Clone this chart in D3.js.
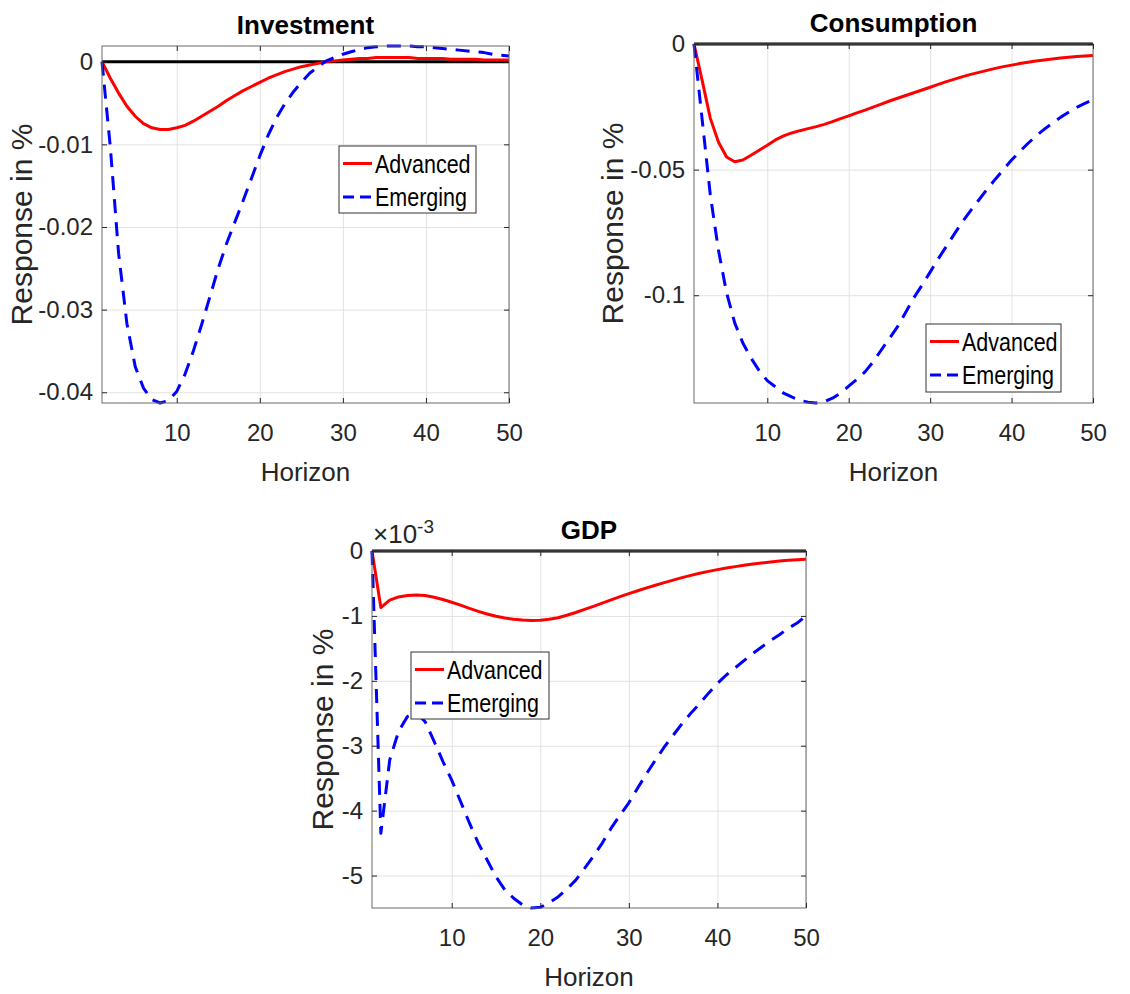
<!DOCTYPE html>
<html>
<head>
<meta charset="utf-8">
<script src="https://cdn.jsdelivr.net/npm/d3@7"></script>
<style>
  body { margin: 0; background: #fff; }
  svg text { font-family: 'Liberation Sans', Arial, Helvetica, sans-serif; }
</style>
</head>
<body>
<div id="chart"></div>
<script>
/** Data (impulse responses, in %) **/
const horizon = d3.range(1, 51);
const xTicks = [10, 20, 30, 40, 50];
const seriesNames = ['Advanced', 'Emerging'];

const invAdvanced = [0, -0.0020, -0.0038, -0.0054, -0.0066, -0.0075, -0.0080, -0.0082, -0.0082, -0.0080,
  -0.0077, -0.0072, -0.0066, -0.0060, -0.0054, -0.0047, -0.0041, -0.0035, -0.0030, -0.0025,
  -0.0020, -0.0016, -0.0012, -0.0009, -0.0006, -0.0004, -0.0002, 0.0000, 0.0001, 0.0002,
  0.0003, 0.0004, 0.0004, 0.0005, 0.0005, 0.0005, 0.0005, 0.0005, 0.0004, 0.0004,
  0.0004, 0.0004, 0.0003, 0.0003, 0.0003, 0.0003, 0.0002, 0.0002, 0.0002, 0.0002];
const invEmerging = [0, -0.0103, -0.0232, -0.0317, -0.0369, -0.0395, -0.0409, -0.0413, -0.0410, -0.0399,
  -0.0378, -0.0350, -0.0318, -0.0284, -0.0250, -0.0220, -0.0194, -0.0168, -0.0141, -0.0114,
  -0.0089, -0.0068, -0.0051, -0.0037, -0.0025, -0.0014, -0.0006, 0.0001, 0.0005, 0.0009,
  0.0012, 0.0015, 0.0017, 0.0018, 0.0019, 0.0019, 0.0019, 0.0019, 0.0018, 0.0018,
  0.0017, 0.0016, 0.0015, 0.0014, 0.0013, 0.0012, 0.0011, 0.0009, 0.0008, 0.0007];

const consAdvanced = [0, -0.0145, -0.0295, -0.0390, -0.0450, -0.0469, -0.0462, -0.0443, -0.0423, -0.0403,
  -0.0382, -0.0366, -0.0354, -0.0345, -0.0337, -0.0329, -0.0320, -0.0309, -0.0297, -0.0286,
  -0.0274, -0.0263, -0.0251, -0.0239, -0.0227, -0.0216, -0.0205, -0.0194, -0.0183, -0.0172,
  -0.0161, -0.0150, -0.0140, -0.0130, -0.0121, -0.0113, -0.0105, -0.0097, -0.0090, -0.0084,
  -0.0078, -0.0073, -0.0068, -0.0064, -0.0060, -0.0056, -0.0053, -0.0050, -0.0048, -0.0046];
const consEmerging = [0, -0.0300, -0.0600, -0.0820, -0.0990, -0.1110, -0.1190, -0.1250, -0.1300, -0.1340,
  -0.1365, -0.1390, -0.1405, -0.1418, -0.1426, -0.1429, -0.1424, -0.1410, -0.1390, -0.1362,
  -0.1335, -0.1305, -0.1265, -0.1218, -0.1172, -0.1125, -0.1068, -0.1010, -0.0960, -0.0908,
  -0.0855, -0.0805, -0.0755, -0.0706, -0.0662, -0.0620, -0.0578, -0.0538, -0.0500, -0.0462,
  -0.0428, -0.0396, -0.0366, -0.0340, -0.0315, -0.0292, -0.0272, -0.0252, -0.0236, -0.0222];

// GDP values are in units of 10^-3
const gdpAdvanced = [0, -0.871, -0.758, -0.707, -0.687, -0.677, -0.687, -0.712, -0.748, -0.790,
  -0.835, -0.885, -0.930, -0.970, -1.005, -1.033, -1.052, -1.064, -1.070, -1.067,
  -1.052, -1.028, -0.990, -0.948, -0.900, -0.852, -0.802, -0.752, -0.704, -0.656,
  -0.612, -0.569, -0.527, -0.487, -0.448, -0.410, -0.375, -0.343, -0.314, -0.287,
  -0.263, -0.241, -0.220, -0.200, -0.184, -0.169, -0.155, -0.143, -0.135, -0.128];
const gdpEmerging = [0, -4.35, -3.22, -2.78, -2.55, -2.49, -2.63, -2.93, -3.24, -3.53,
  -3.86, -4.19, -4.50, -4.76, -5.02, -5.22, -5.35, -5.45, -5.50, -5.49,
  -5.42, -5.33, -5.21, -5.07, -4.89, -4.70, -4.50, -4.27, -4.07, -3.88,
  -3.65, -3.43, -3.22, -3.02, -2.84, -2.66, -2.50, -2.35, -2.19, -2.04,
  -1.91, -1.80, -1.69, -1.58, -1.48, -1.38, -1.29, -1.19, -1.11, -1.00];

const invTicks = [0, -0.01, -0.02, -0.03, -0.04];
const consTicks = [0, -0.05, -0.1];
const gdpTicks = [0, -1, -2, -3, -4, -5];

/** Panel layout **/
const panels = [
  { title: 'Investment', adv: invAdvanced, emg: invEmerging, yTicks: invTicks,
    box: { left: 102, right: 509, top: 46, bottom: 403 },
    legend: { x: 339, y: 146, w: 137, h: 67 }, ylabelGap: 70, exponent: false },
  { title: 'Consumption', adv: consAdvanced, emg: consEmerging, yTicks: consTicks,
    box: { left: 694, right: 1093, top: 44, bottom: 403 },
    legend: { x: 926, y: 324, w: 135, h: 68 }, ylabelGap: 71, exponent: false },
  { title: 'GDP', adv: gdpAdvanced, emg: gdpEmerging, yTicks: gdpTicks,
    box: { left: 372, right: 806, top: 551, bottom: 908 },
    legend: { x: 411, y: 652, w: 138, h: 67 }, ylabelGap: 39, exponent: true },
];

const colors = { Advanced: '#ff0000', Emerging: '#0000ff' };
const axisColor = '#262626';

const svg = d3
  .select('#chart')
  .append('svg')
  .attr('width', 1130)
  .attr('height', 994)
  .style('display', 'block');

panels.forEach(drawPanel);

/** Draw one panel **/
function drawPanel(p) {
  const { left, right, top, bottom } = p.box;
  const w = right - left;
  const h = bottom - top;

  const g = svg.append('g').attr('transform', `translate(${left}, ${top})`);

  const x = d3.scaleLinear().domain([1, 50]).range([0, w]);
  // tight y limits, like MATLAB "axis tight"
  const y = d3
    .scaleLinear()
    .domain(d3.extent([...p.adv, ...p.emg, 0]))
    .range([h, 0]);

  /** 1. grid **/
  const gx = g.append('g').call(d3.axisBottom(x).tickValues(xTicks).tickSize(h).tickFormat(''));
  const gy = g.append('g').call(d3.axisLeft(y).tickValues(p.yTicks).tickSize(-w).tickFormat(''));
  [gx, gy].forEach((a) => {
    a.select('.domain').remove();
    a.selectAll('line').attr('stroke', '#e2e2e2').attr('stroke-width', 1);
  });

  /** 2. lines **/
  const line = (vals) =>
    d3.line().x((d, i) => x(horizon[i])).y((d) => y(d))(vals);

  g.append('path')
    .attr('d', line(horizon.map(() => 0)))
    .attr('fill', 'none')
    .attr('stroke', '#000')
    .attr('stroke-width', 3);

  g.append('path')
    .attr('d', line(p.adv))
    .attr('fill', 'none')
    .attr('stroke', colors.Advanced)
    .attr('stroke-width', 3)
    .attr('stroke-linejoin', 'round');

  g.append('path')
    .attr('d', line(p.emg))
    .attr('fill', 'none')
    .attr('stroke', colors.Emerging)
    .attr('stroke-width', 3)
    .attr('stroke-dasharray', '14,9')
    .attr('stroke-linejoin', 'round');

  /** 3. frame and axes **/
  g.append('rect')
    .attr('width', w)
    .attr('height', h)
    .attr('fill', 'none')
    .attr('stroke', '#6a6a6a')
    .attr('stroke-width', 1);

  const fmt = (d) => String(d);
  const axes = [
    g.append('g').attr('transform', `translate(0, ${h})`)
      .call(d3.axisBottom(x).tickValues(xTicks).tickSize(-5).tickPadding(21).tickFormat(fmt)),
    g.append('g')
      .call(d3.axisTop(x).tickValues(xTicks).tickSize(-5).tickFormat('')),
    g.append('g')
      .call(d3.axisLeft(y).tickValues(p.yTicks).tickSize(-5).tickPadding(9).tickFormat(fmt)),
    g.append('g').attr('transform', `translate(${w}, 0)`)
      .call(d3.axisRight(y).tickValues(p.yTicks).tickSize(-5).tickFormat('')),
  ];
  axes.forEach((a) => {
    a.select('.domain').remove();
    a.selectAll('line').attr('stroke', axisColor);
    a.selectAll('text')
      .attr('fill', axisColor)
      .style('font-size', '24px');
  });

  /** 4. labels **/
  svg.append('text')
    .attr('x', left + w / 2)
    .attr('y', top - 12)
    .attr('text-anchor', 'middle')
    .style('font-size', '26px')
    .style('font-weight', 'bold')
    .attr('fill', '#000')
    .text(p.title);

  svg.append('text')
    .attr('x', left + w / 2)
    .attr('y', bottom + 78)
    .attr('text-anchor', 'middle')
    .style('font-size', '26px')
    .attr('fill', axisColor)
    .text('Horizon');

  svg.append('text')
    .attr('transform', `translate(${left - p.ylabelGap}, ${top + h / 2}) rotate(-90)`)
    .attr('text-anchor', 'middle')
    .style('font-size', '30px')
    .attr('fill', axisColor)
    .text('Response in %');

  if (p.exponent) {
    const ex = svg.append('text')
      .attr('x', left + 1)
      .attr('y', top - 8)
      .style('font-size', '26px')
      .attr('fill', axisColor);
    ex.append('tspan').text('\u00d710');
    ex.append('tspan').attr('dy', -10).style('font-size', '19px').text('-3');
  }

  /** 5. legend **/
  const lg = svg.append('g').attr('transform', `translate(${p.legend.x}, ${p.legend.y})`);
  lg.append('rect')
    .attr('width', p.legend.w)
    .attr('height', p.legend.h)
    .attr('fill', '#fff')
    .attr('stroke', '#333')
    .attr('stroke-width', 1);

  seriesNames.forEach((name, i) => {
    const cy = 17.5 + i * 33.5;
    lg.append('line')
      .attr('x1', 4)
      .attr('x2', 33)
      .attr('y1', cy)
      .attr('y2', cy)
      .attr('stroke', colors[name])
      .attr('stroke-width', 3)
      .attr('stroke-dasharray', name === 'Emerging' ? '11,6' : null);
    lg.append('text')
      .attr('transform', `translate(36, ${cy + 9}) scale(0.86, 1)`)
      .style('font-size', '25px')
      .attr('fill', '#000')
      .text(name);
  });
}
</script>
</body>
</html>
